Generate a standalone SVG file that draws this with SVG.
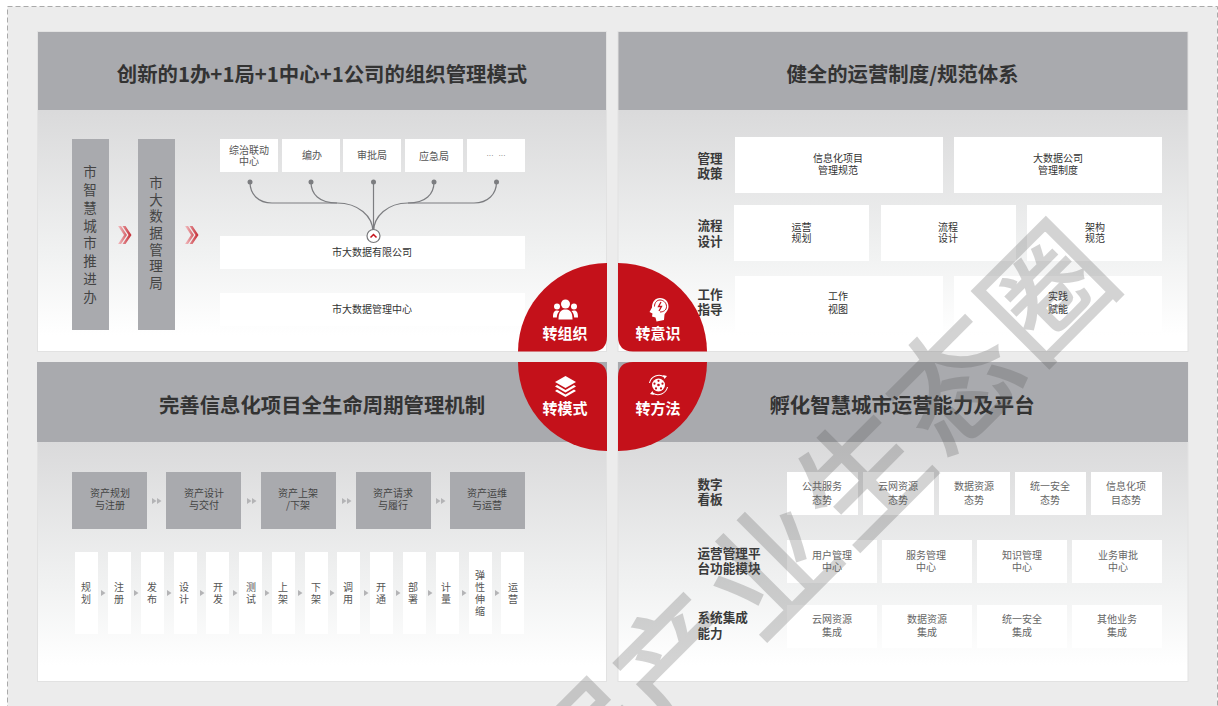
<svg xmlns="http://www.w3.org/2000/svg" width="1218" height="706" viewBox="0 0 1218 706">
<style>
text{font-family:"Noto Sans CJK SC","Noto Sans",sans-serif;dominant-baseline:central;text-anchor:middle}
.t,.v,.l,.ql{transform:translateY(-1.5px)}
.s,.d,.g,.fs{transform:translateY(-.5px)}
.panel{fill:url(#pg);stroke:#e2e2e2;stroke-width:1}
.hd{fill:#a9aaae}
.t{font-size:20.4px;font-weight:700;fill:#333}
.w{fill:#fff}
.s{font-size:10px;fill:#555}
.d{font-size:10px;fill:#333}
.g{font-size:10px;fill:#666}
.f{fill:#a9aaae}
.fs{font-size:10px;fill:#444}
.v{font-size:13.500px;fill:#444}
.l{font-size:12.600px;font-weight:700;fill:#3a3a3a;text-anchor:start}
.q{fill:#c4111a}
.ql{font-size:15px;font-weight:700;fill:#fff}
.tri{fill:#b4b4b6}
.con{fill:none;stroke:#7c7d80;stroke-width:1.2}
.wm{font-size:124px;fill:#555;stroke:#555;stroke-width:2.500px;opacity:.25;letter-spacing:6px;text-anchor:end}
</style>
<defs>
<linearGradient id="pg" x1="0" y1="0" x2="0" y2="1"><stop offset="0" stop-color="#dadadb"/><stop offset=".25" stop-color="#dadadb"/><stop offset=".7" stop-color="#f1f2f2"/><stop offset=".95" stop-color="#fff"/></linearGradient>
<linearGradient id="ch" x1="0" y1="0" x2="1" y2="0"><stop offset="0" stop-color="#f3c0c3"/><stop offset="1" stop-color="#c42a33"/></linearGradient>
<path id="chev" d="M0-9 6 0 0 9H3L9 0 3-9ZM4.500-9 10.500 0 4.500 9H7.500L13.500 0 7.500-9Z" fill="url(#ch)"/>
<path id="tr" d="M0-3 4.500 0 0 3Z"/>
</defs>
<rect width="1218" height="706" fill="#fff"/>
<rect x="7.500" y="6.500" width="1210" height="710" fill="#ececec" stroke="#aaa" stroke-dasharray="5 3"/>

<g id="panel-org">
<rect class="panel" x="37.500" y="31.500" width="569" height="320"/>
<rect class="hd" x="38" y="32" width="568" height="78"/>
<text class="t" x="322" y="74">创新的1办+1局+1中心+1公司的组织管理模式</text>
</g>
<g id="node-tuijinban">
<rect class="f" x="72" y="139" width="37" height="191"/>
<text class="v" x="90" y="172">市</text><text class="v" x="90" y="190">智</text><text class="v" x="90" y="208">慧</text><text class="v" x="90" y="226">城</text><text class="v" x="90" y="243">市</text><text class="v" x="90" y="261">推</text><text class="v" x="90" y="279">进</text><text class="v" x="90" y="297">办</text>
</g>
<g id="node-dsjj">
<rect class="f" x="138" y="139" width="37" height="191"/>
<text class="v" x="156" y="183">市</text><text class="v" x="156" y="200">大</text><text class="v" x="156" y="216">数</text><text class="v" x="156" y="233">据</text><text class="v" x="156" y="250">管</text><text class="v" x="156" y="266">理</text><text class="v" x="156" y="283">局</text>
</g>
<g id="node-zz"><rect class="w" x="220" y="139" width="58" height="33"/><text class="s" x="249" y="150">综治联动</text><text class="s" x="249" y="161">中心</text></g>
<g id="node-bb"><rect class="w" x="282" y="139" width="58" height="33"/><text class="s" x="312" y="155">编办</text></g>
<g id="node-spj"><rect class="w" x="343" y="139" width="58" height="33"/><text class="s" x="372" y="155">审批局</text></g>
<g id="node-yjj"><rect class="w" x="405" y="139" width="58" height="33"/><text class="s" x="434" y="156">应急局</text></g>
<g id="node-more"><rect class="w" x="467" y="139" width="58" height="33"/><text class="s" x="496" y="156" style="font-family:'Liberation Sans',sans-serif;font-size:7px;word-spacing:3px">··· ···</text></g>
<g id="node-company"><rect class="w" x="220" y="236" width="305" height="33"/><text class="d" x="372" y="252">市大数据有限公司</text></g>
<g id="node-center"><rect class="w" x="220" y="293" width="305" height="33"/><text class="d" x="372" y="309">市大数据管理中心</text></g>

<g id="panel-rules">
<rect class="panel" x="618" y="31.500" width="570" height="320"/>
<rect class="hd" x="618.500" y="32" width="569" height="78"/>
<text class="t" x="902.500" y="74">健全的运营制度/规范体系</text>
<text class="l" x="697.500" y="159">管理</text><text class="l" x="697.500" y="174">政策</text>
<text class="l" x="697.500" y="226">流程</text><text class="l" x="697.500" y="242">设计</text>
<text class="l" x="697.500" y="295">工作</text><text class="l" x="697.500" y="310">指导</text>
</g>
<g id="node-r1"><rect class="w" x="735" y="137" width="208" height="56"/><text class="d" x="838" y="158">信息化项目</text><text class="d" x="838" y="170">管理规范</text></g>
<g id="node-r2"><rect class="w" x="954" y="137" width="208" height="56"/><text class="d" x="1058" y="158">大数据公司</text><text class="d" x="1058" y="170">管理制度</text></g>
<g id="node-r3"><rect class="w" x="734" y="205" width="135" height="56"/><text class="d" x="801.500" y="227">运营</text><text class="d" x="801.500" y="238">规划</text></g>
<g id="node-r4"><rect class="w" x="881" y="205" width="135" height="56"/><text class="d" x="948" y="227">流程</text><text class="d" x="948" y="238">设计</text></g>
<g id="node-r5"><rect class="w" x="1027" y="205" width="135" height="56"/><text class="d" x="1095" y="227">架构</text><text class="d" x="1095" y="238">规范</text></g>
<g id="node-r6"><rect class="w" x="735" y="276" width="208" height="56"/><text class="d" x="838" y="296">工作</text><text class="d" x="838" y="309">视图</text></g>
<g id="node-r7"><rect class="w" x="954" y="276" width="208" height="56"/><text class="d" x="1058" y="296">实践</text><text class="d" x="1058" y="309">赋能</text></g>

<g id="panel-life">
<rect class="panel" x="37.500" y="362.500" width="569" height="319"/>
<rect class="hd" x="37" y="362" width="570" height="80"/>
<text class="t" x="322" y="405">完善信息化项目全生命周期管理机制</text>
</g>
<g id="node-a1"><rect class="f" x="72" y="472" width="75" height="57"/><text class="fs" x="110" y="493">资产规划</text><text class="fs" x="110" y="505">与注册</text></g>
<g id="node-a2"><rect class="f" x="166" y="472" width="75" height="57"/><text class="fs" x="204" y="493">资产设计</text><text class="fs" x="204" y="505">与交付</text></g>
<g id="node-a3"><rect class="f" x="261" y="472" width="75" height="57"/><text class="fs" x="298" y="493">资产上架</text><text class="fs" x="298" y="505">/下架</text></g>
<g id="node-a4"><rect class="f" x="356" y="472" width="75" height="57"/><text class="fs" x="393" y="493">资产请求</text><text class="fs" x="393" y="505">与履行</text></g>
<g id="node-a5"><rect class="f" x="450" y="472" width="75" height="57"/><text class="fs" x="487" y="493">资产运维</text><text class="fs" x="487" y="505">与运营</text></g>
<g id="node-b1"><rect class="w" x="75" y="552" width="23" height="82"/><text class="s" x="86" y="587">规</text><text class="s" x="86" y="599">划</text></g>
<g id="node-b2"><rect class="w" x="108" y="552" width="23" height="82"/><text class="s" x="119" y="587">注</text><text class="s" x="119" y="599">册</text></g>
<g id="node-b3"><rect class="w" x="141" y="552" width="23" height="82"/><text class="s" x="152" y="587">发</text><text class="s" x="152" y="599">布</text></g>
<g id="node-b4"><rect class="w" x="174" y="552" width="23" height="82"/><text class="s" x="184" y="587">设</text><text class="s" x="184" y="599">计</text></g>
<g id="node-b5"><rect class="w" x="206" y="552" width="23" height="82"/><text class="s" x="218" y="587">开</text><text class="s" x="218" y="599">发</text></g>
<g id="node-b6"><rect class="w" x="239" y="552" width="23" height="82"/><text class="s" x="251" y="587">测</text><text class="s" x="251" y="599">试</text></g>
<g id="node-b7"><rect class="w" x="272" y="552" width="23" height="82"/><text class="s" x="283" y="587">上</text><text class="s" x="283" y="599">架</text></g>
<g id="node-b8"><rect class="w" x="305" y="552" width="23" height="82"/><text class="s" x="316" y="587">下</text><text class="s" x="316" y="599">架</text></g>
<g id="node-b9"><rect class="w" x="337" y="552" width="23" height="82"/><text class="s" x="348" y="587">调</text><text class="s" x="348" y="599">用</text></g>
<g id="node-b10"><rect class="w" x="370" y="552" width="23" height="82"/><text class="s" x="381" y="587">开</text><text class="s" x="381" y="599">通</text></g>
<g id="node-b11"><rect class="w" x="403" y="552" width="23" height="82"/><text class="s" x="413" y="587">部</text><text class="s" x="413" y="599">署</text></g>
<g id="node-b12"><rect class="w" x="436" y="552" width="23" height="82"/><text class="s" x="446" y="587">计</text><text class="s" x="446" y="599">量</text></g>
<g id="node-b13"><rect class="w" x="469" y="552" width="23" height="82"/><text class="s" x="480" y="575">弹</text><text class="s" x="480" y="587">性</text><text class="s" x="480" y="599">伸</text><text class="s" x="480" y="611">缩</text></g>
<g id="node-b14"><rect class="w" x="501" y="552" width="23" height="82"/><text class="s" x="513" y="587">运</text><text class="s" x="513" y="599">营</text></g>

<g id="panel-platform">
<rect class="panel" x="618" y="362.500" width="570" height="319"/>
<rect class="hd" x="618" y="362" width="570" height="80"/>
<text class="t" x="902" y="405">孵化智慧城市运营能力及平台</text>
<text class="l" x="697.500" y="485">数字</text><text class="l" x="697.500" y="500">看板</text>
<text class="l" x="697.500" y="554">运营管理平</text><text class="l" x="697.500" y="569">台功能模块</text>
<text class="l" x="697.500" y="618">系统集成</text><text class="l" x="697.500" y="634">能力</text>
</g>
<g id="node-p1"><rect class="w" x="787" y="472" width="71" height="43"/><text class="g" x="822" y="486">公共服务</text><text class="g" x="822" y="500">态势</text></g>
<g id="node-p2"><rect class="w" x="863" y="472" width="71" height="43"/><text class="g" x="898" y="486">云网资源</text><text class="g" x="898" y="500">态势</text></g>
<g id="node-p3"><rect class="w" x="939" y="472" width="71" height="43"/><text class="g" x="974" y="486">数据资源</text><text class="g" x="974" y="500">态势</text></g>
<g id="node-p4"><rect class="w" x="1015" y="472" width="71" height="43"/><text class="g" x="1050" y="486">统一安全</text><text class="g" x="1050" y="500">态势</text></g>
<g id="node-p5"><rect class="w" x="1091" y="472" width="71" height="43"/><text class="g" x="1126" y="486">信息化项</text><text class="g" x="1126" y="500">目态势</text></g>
<g id="node-p6"><rect class="w" x="787" y="540" width="90" height="43"/><text class="g" x="832" y="555">用户管理</text><text class="g" x="832" y="567">中心</text></g>
<g id="node-p7"><rect class="w" x="882" y="540" width="90" height="43"/><text class="g" x="926" y="555">服务管理</text><text class="g" x="926" y="567">中心</text></g>
<g id="node-p8"><rect class="w" x="977" y="540" width="90" height="43"/><text class="g" x="1022" y="555">知识管理</text><text class="g" x="1022" y="567">中心</text></g>
<g id="node-p9"><rect class="w" x="1072" y="540" width="90" height="43"/><text class="g" x="1118" y="555">业务审批</text><text class="g" x="1118" y="567">中心</text></g>
<g id="node-p10"><rect class="w" x="787" y="605" width="90" height="43"/><text class="g" x="832" y="619">云网资源</text><text class="g" x="832" y="632">集成</text></g>
<g id="node-p11"><rect class="w" x="882" y="605" width="90" height="43"/><text class="g" x="927" y="619">数据资源</text><text class="g" x="927" y="632">集成</text></g>
<g id="node-p12"><rect class="w" x="977" y="605" width="90" height="43"/><text class="g" x="1022" y="619">统一安全</text><text class="g" x="1022" y="632">集成</text></g>
<g id="node-p13"><rect class="w" x="1072" y="605" width="90" height="43"/><text class="g" x="1117" y="619">其他业务</text><text class="g" x="1117" y="632">集成</text></g>

<g id="connectors">
<use href="#chev" x="118" y="235"/><use href="#chev" x="185" y="235"/>
<path class="con" d="M250 182C250 194 258 203 272 203H337C358 203 373 216 373 232"/>
<path class="con" d="M311 182C311 194 319 203 337 203"/>
<path class="con" d="M373.500 182V232"/>
<path class="con" d="M434 182C434 194 426 203 408 203"/>
<path class="con" d="M496.500 182C496.500 194 488 203 474 203H408C388 203 373.500 216 373.500 232"/>
<g fill="#7c7d80"><circle cx="250" cy="182" r="2.500"/><circle cx="311" cy="182" r="2.500"/><circle cx="373.500" cy="182" r="2.500"/><circle cx="434" cy="182" r="2.500"/><circle cx="496.500" cy="182" r="2.500"/></g>
<circle cx="373.500" cy="236" r="6.500" fill="#fff" stroke="#77787b" stroke-width="1.200"/>
<path d="M370.500 237.500 373.500 234.500 376.500 237.500" fill="none" stroke="#c4111a" stroke-width="1.500"/>
<g class="tri">
<use href="#tr" x="152" y="501"/><use href="#tr" x="157" y="501"/><use href="#tr" x="247" y="501"/><use href="#tr" x="252" y="501"/><use href="#tr" x="342" y="501"/><use href="#tr" x="347" y="501"/><use href="#tr" x="436" y="501"/><use href="#tr" x="441" y="501"/>
<use href="#tr" x="101" y="593"/><use href="#tr" x="134" y="593"/><use href="#tr" x="167" y="593"/><use href="#tr" x="200" y="593"/><use href="#tr" x="233" y="593"/><use href="#tr" x="265" y="593"/><use href="#tr" x="298" y="593"/><use href="#tr" x="330" y="593"/><use href="#tr" x="364" y="593"/><use href="#tr" x="396" y="593"/><use href="#tr" x="428" y="593"/><use href="#tr" x="462" y="593"/><use href="#tr" x="495" y="593"/>
</g>
</g>

<g id="node-q1">
<path class="q" d="M518 351.500A89 89 0 0 1 607 263V336Q607 351.500 592 351.500Z"/>
<g fill="#fff"><circle cx="565.500" cy="304" r="4.500"/><circle cx="557" cy="306.500" r="3"/><circle cx="574" cy="306.500" r="3"/><path d="M558.500 319.500C558.500 312 561 309.500 565.500 309.500S572.500 312 572.500 319.500Z"/><path d="M553 317.500C553 312 554.500 310.500 557 310.500 558 310.500 558.800 310.700 559.500 311 557.500 313 557 315 556.800 317.500Z"/><path d="M578 317.500C578 312 576.500 310.500 574 310.500 573 310.500 572.200 310.700 571.500 311 573.500 313 574 315 574.200 317.500Z"/></g>
<text class="ql" x="565" y="334">转组织</text>
</g>
<g id="node-q2">
<path class="q" d="M618 263A89 89 0 0 1 707 351.500H633Q618 351.500 618 336Z"/>
<path fill="#fff" d="M660 298C665.500 298 668.500 302 668.500 306.500 668.500 310.500 665.500 312.500 664.500 314.500L664 320 656.500 321.500 655.500 317.500 652 316.500 652.500 313.500 649.500 312 652 307.500C652 302 655 298 660 298Z"/>
<path fill="none" stroke="#c4111a" stroke-width="1" d="M654.500 306.500C654.500 302.500 657 300 660 300S666.500 302.500 666.500 306.500 663 312 660 312"/>
<path fill="none" stroke="#c4111a" stroke-width="1.300" d="M661 302 658.500 306.500H661.500L659 311"/>
<text class="ql" x="658" y="334">转意识</text>
</g>
<g id="node-q3">
<path class="q" d="M518 362A89 89 0 0 0 607 451V377Q607 362 592 362Z"/>
<g fill="#fff"><path d="M565.500 376 576 382 565.500 388 555 382Z"/><path d="M557 385 565.500 390 574 385 576 386.500 565.500 392.500 555 386.500Z"/><path d="M557 389.500 565.500 394.500 574 389.500 576 391 565.500 397 555 391Z"/></g>
<text class="ql" x="565" y="409">转模式</text>
</g>
<g id="node-q4">
<path class="q" d="M707 362A89 89 0 0 1 618 451V377Q618 362 633 362Z"/>
<circle cx="658.500" cy="385" r="6.500" fill="#fff"/>
<g fill="#c4111a"><circle cx="658.500" cy="385" r="1.300"/><circle cx="658.500" cy="380.800" r="1.100"/><circle cx="662.500" cy="383.700" r="1.100"/><circle cx="661" cy="388.400" r="1.100"/><circle cx="656" cy="388.400" r="1.100"/><circle cx="654.500" cy="383.700" r="1.100"/></g>
<path fill="none" stroke="#fff" stroke-width="1.100" d="M649.500 383A9.800 9.800 0 0 1 664.500 377M667.500 387A9.800 9.800 0 0 1 652.500 393"/>
<path fill="#fff" d="M663 375 667 376 664.500 379ZM654 395 650 394 652.500 391Z"/>
<text class="ql" x="658" y="409">转方法</text>
</g>

<text class="wm" transform="translate(1043 284) rotate(-45)" x="65" y="0">据产业生态圈</text>
</svg>
